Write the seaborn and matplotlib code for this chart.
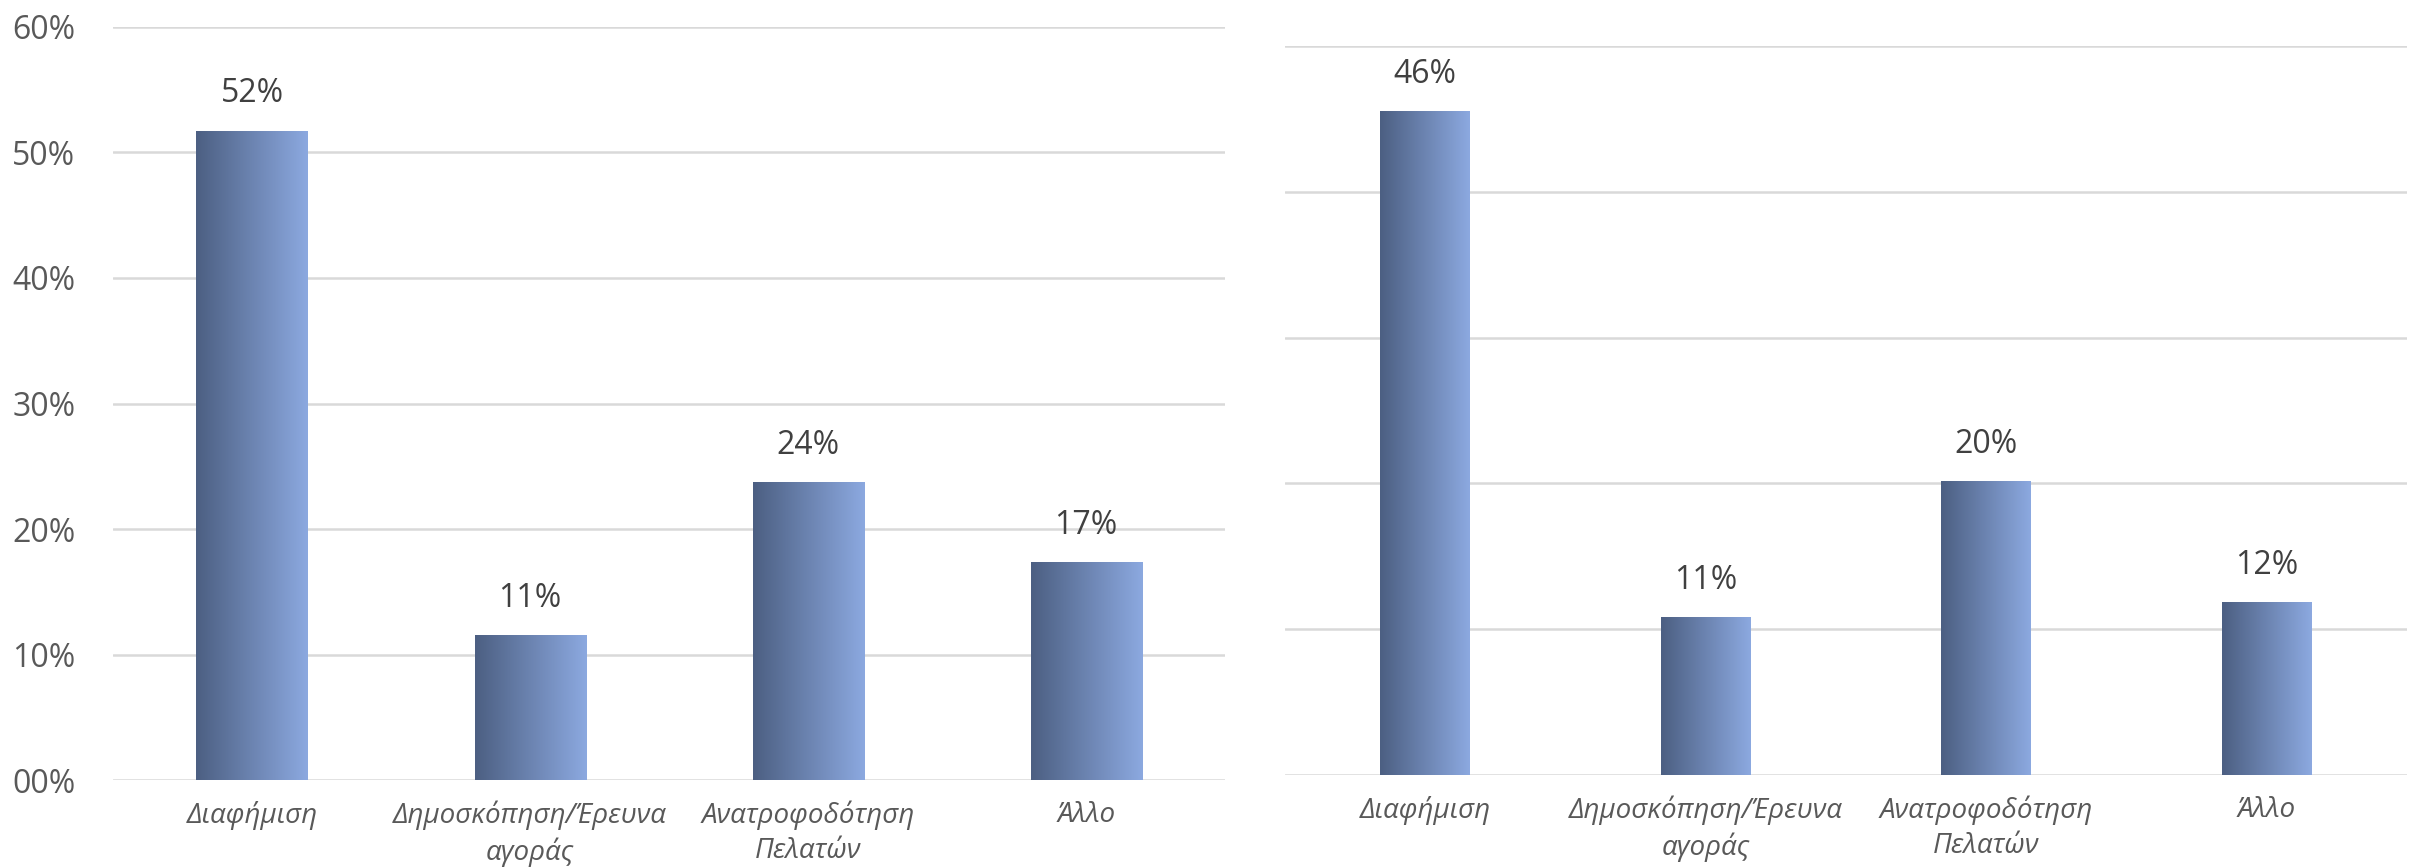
import numpy as np
import matplotlib
matplotlib.use("Agg")
import matplotlib.pyplot as plt
from matplotlib.colors import LinearSegmentedColormap
import seaborn as sns
import pandas as pd

# data
categories = ["Διαφήμιση", "Δημοσκόπηση/Έρευνα\nαγοράς", "Ανατροφοδότηση\nΠελατών", "Άλλο"]
left_values = [51.7, 11.5, 23.7, 17.3]
left_labels = ["52%", "11%", "24%", "17%"]
right_values = [45.5, 10.8, 20.1, 11.8]
right_labels = ["46%", "11%", "20%", "12%"]
left_ticks = [0, 10, 20, 30, 40, 50, 60]
right_ticks = [0, 10, 20, 30, 40, 50]

sns.set_style("white")
plt.rcParams["font.family"] = ["Open Sans", "DejaVu Sans"]

grad_cmap = LinearSegmentedColormap.from_list("bar", ["#4c5f82", "#8ca9e0"])
grad = np.linspace(0, 1, 256).reshape(1, -1)

fig = plt.figure(figsize=(24.31, 8.67), dpi=100)
ax1 = fig.add_axes([0.0465, 0.1003, 0.4575, 0.8686])
ax2 = fig.add_axes([0.5286, 0.1061, 0.4615, 0.8408])


def draw_panel(ax, values, labels, ticks, width, show_yticks):
    df = pd.DataFrame({"cat": categories, "val": values})
    sns.barplot(data=df, x="cat", y="val", ax=ax, width=width,
                color="#4c5f82", saturation=1)
    # gradient fill over each bar
    for patch, lab in zip(ax.patches, labels):
        x0, w, h = patch.get_x(), patch.get_width(), patch.get_height()
        patch.set_alpha(0)
        ax.imshow(grad, extent=[x0, x0 + w, 0, h], cmap=grad_cmap,
                  aspect="auto", zorder=3, interpolation="bicubic")
        ax.annotate(lab, (x0 + w / 2, h), xytext=(0, 15), textcoords="offset points",
                    ha="center", va="bottom", fontsize=23, color="#404040")
    ax.set_xlim(-0.5, len(categories) - 0.5)
    ax.set_ylim(ticks[0], ticks[-1])
    ax.set_yticks(ticks)
    ax.yaxis.grid(True, color="#d9d9d9", lw=1.8)
    ax.set_axisbelow(True)
    sns.despine(ax=ax, left=True, bottom=True)
    ax.set_xlabel("")
    ax.set_ylabel("")
    ax.tick_params(axis="x", length=0, pad=15)
    ax.set_xticks(range(len(categories)))
    ax.set_xticklabels(categories, fontsize=20, style="italic", color="#595959",
                       linespacing=1.3)
    if show_yticks:
        ax.set_yticklabels([f"{t:02d}%" for t in ticks], fontsize=23, color="#595959")
        ax.tick_params(axis="y", length=0, pad=27)
    else:
        ax.tick_params(axis="y", length=0, labelleft=False)


draw_panel(ax1, left_values, left_labels, left_ticks, 0.40, True)
draw_panel(ax2, right_values, right_labels, right_ticks, 0.32, False)

fig.savefig("out.png", dpi=100)
